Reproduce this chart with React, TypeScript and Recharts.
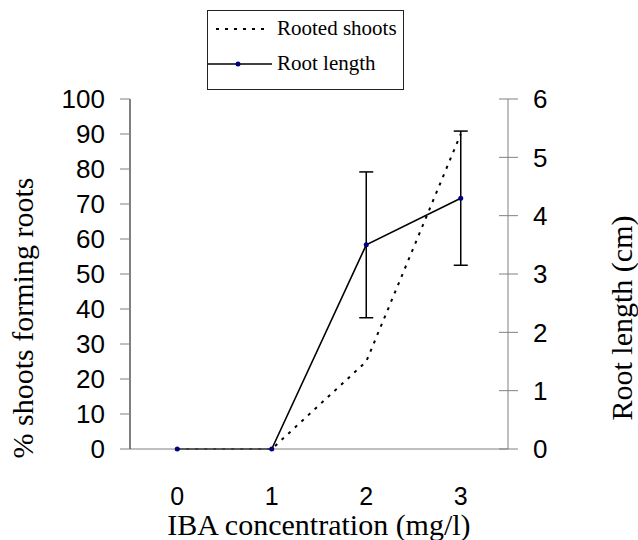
import React from "react";
import {
  ComposedChart,
  Line,
  XAxis,
  YAxis,
  ErrorBar,
  Legend,
} from "recharts";

// IBA concentration (mg/l)
const concentrations = [0, 1, 2, 3];
// % shoots forming roots
const rootedShoots = [0, 0, 25, 90];
// root length (cm) and its error
const rootLength = [0, 0, 3.5, 4.3];
const rootLengthErr = [0, 0, 1.25, 1.15];

const pctTicks = [0, 10, 20, 30, 40, 50, 60, 70, 80, 90, 100];
const cmTicks = [0, 1, 2, 3, 4, 5, 6];
const bandEdges = [-0.5, 0.5, 1.5, 2.5, 3.5];
const legendOrder = ["rooted", "length"];

const data = concentrations.map((c, i) => ({
  conc: c,
  rooted: rootedShoots[i],
  length: rootLength[i],
  err: rootLengthErr[i],
}));

const SANS = "'Liberation Sans', Arial, sans-serif";
const SERIF = "'Liberation Serif', 'Times New Roman', serif";
const AXIS_GRAY = "#808080";

function RightTick(props: any) {
  const { x, y, payload } = props;
  // axis line sits tickSize + tickMargin to the left of the label
  const axisX = x - 25;
  return (
    <g>
      <line x1={axisX - 9} x2={axisX + 10} y1={y} y2={y} stroke={AXIS_GRAY} />
      <text
        x={x}
        y={y}
        dy="0.36em"
        textAnchor="start"
        fill="#000"
        fontFamily={SANS}
        fontSize={26}
      >
        {payload.value}
      </text>
    </g>
  );
}

function LegendBox({ payload }: any) {
  const items = [...(payload || [])].sort(
    (a: any, b: any) => legendOrder.indexOf(a.dataKey) - legendOrder.indexOf(b.dataKey)
  );
  return (
    <div
      style={{
        width: 197,
        height: 80,
        boxSizing: "border-box",
        border: "1px solid #222",
        background: "#fff",
        fontFamily: SERIF,
        fontSize: 21,
        color: "#000",
      }}
    >
      {items.map((item: any) => {
        const dotted = item.dataKey === "rooted";
        return (
          <div key={item.value} style={{ display: "flex", alignItems: "center", height: 35 }}>
            <svg width={66} height={20} style={{ flex: "none" }}>
              <line
                x1={dotted ? 8 : 0}
                x2={dotted ? 56 : 64}
                y1={10}
                y2={10}
                stroke="#000"
                strokeWidth={dotted ? 2 : 1.5}
                strokeDasharray={dotted ? "3 6" : undefined}
              />
              {!dotted && <circle cx={30} cy={10} r={2.5} fill="#000080" />}
            </svg>
            <span style={{ marginLeft: 3, whiteSpace: "nowrap" }}>{item.value}</span>
          </div>
        );
      })}
    </div>
  );
}

export default function App() {
  return (
    <div
      style={{
        position: "absolute",
        left: 0,
        top: 0,
        width: 638,
        height: 540,
        background: "#fff",
      }}
    >
      <ComposedChart
        width={638}
        height={540}
        data={data}
        margin={{ top: 99, right: 0, bottom: 0, left: 0 }}
      >
        <XAxis
          xAxisId="edges"
          type="number"
          dataKey="conc"
          domain={[-0.5, 3.5]}
          ticks={bandEdges}
          interval={0}
          tick={false}
          tickSize={7}
          height={1}
          axisLine={{ stroke: AXIS_GRAY }}
          tickLine={{ stroke: AXIS_GRAY }}
        />
        <XAxis
          xAxisId="labels"
          type="number"
          dataKey="conc"
          domain={[-0.5, 3.5]}
          ticks={concentrations}
          interval={0}
          axisLine={false}
          tickLine={false}
          tickSize={0}
          tickMargin={37}
          height={90}
          tick={{ fill: "#000", fontFamily: SANS, fontSize: 25 }}
          label={{
            content: () => (
              <text
                x={319}
                y={535}
                textAnchor="middle"
                fill="#000"
                fontFamily={SERIF}
                fontSize={30}
              >
                IBA concentration (mg/l)
              </text>
            ),
          }}
        />
        <YAxis
          yAxisId="pct"
          orientation="left"
          width={130}
          domain={[0, 100]}
          ticks={pctTicks}
          interval={0}
          tickSize={10}
          tickMargin={15}
          axisLine={{ stroke: "#000" }}
          tickLine={{ stroke: AXIS_GRAY }}
          tick={{ fill: "#000", fontFamily: SANS, fontSize: 26 }}
          label={{
            content: () => (
              <text
                x={33}
                y={318}
                transform="rotate(-90 33 318)"
                textAnchor="middle"
                fill="#000"
                fontFamily={SERIF}
                fontSize={30}
              >
                % shoots forming roots
              </text>
            ),
          }}
        />
        <YAxis
          yAxisId="cm"
          orientation="right"
          width={130}
          domain={[0, 6]}
          ticks={cmTicks}
          interval={0}
          tickSize={10}
          tickMargin={15}
          axisLine={{ stroke: AXIS_GRAY }}
          tickLine={false}
          tick={<RightTick />}
          label={{
            content: () => (
              <text
                x={632}
                y={318}
                transform="rotate(-90 632 318)"
                textAnchor="middle"
                fill="#000"
                fontFamily={SERIF}
                fontSize={30}
              >
                Root length (cm)
              </text>
            ),
          }}
        />
        <Legend
          layout="vertical"
          align="center"
          verticalAlign="middle"
          wrapperStyle={{ left: 207, top: 10, width: 197, height: 80 }}
          content={<LegendBox />}
        />
        <Line
          name="Rooted shoots"
          xAxisId="edges"
          yAxisId="pct"
          dataKey="rooted"
          type="linear"
          stroke="#000"
          strokeWidth={2}
          strokeDasharray="3 6"
          dot={false}
          activeDot={false}
          isAnimationActive={false}
        />
        <Line
          name="Root length"
          xAxisId="edges"
          yAxisId="cm"
          dataKey="length"
          type="linear"
          stroke="#000"
          strokeWidth={1.6}
          dot={{ r: 2.5, fill: "#000080", stroke: "none" }}
          activeDot={false}
          isAnimationActive={false}
        >
          <ErrorBar dataKey="err" width={7} stroke="#000" strokeWidth={1.5} />
        </Line>
      </ComposedChart>
    </div>
  );
}
